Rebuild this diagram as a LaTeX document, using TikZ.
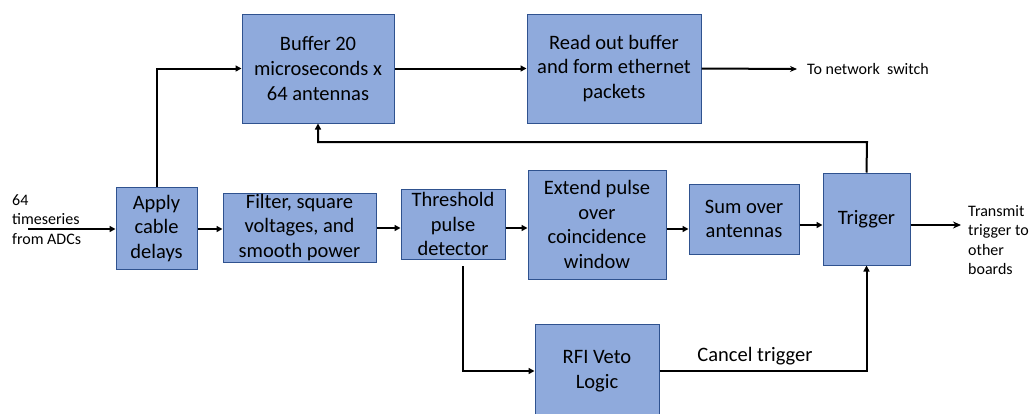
\documentclass[tikz,border=0pt]{standalone}
\usepackage{fontspec}
\setmainfont{Carlito}
\usetikzlibrary{arrows.meta,positioning}
\definecolor{boxfill}{HTML}{8FAADC}
\definecolor{boxline}{HTML}{2F528F}
\begin{document}
\begin{tikzpicture}[x=1pt,y=-1pt,
  blk/.style={draw=boxline,line width=1pt,fill=boxfill,inner sep=0pt,align=center,
    font=\fontsize{20.5}{24.7}\selectfont},
  conn/.style={line width=2pt,-{Triangle[length=6pt,width=6pt]}},
  small/.style={font=\fontsize{16}{19.5}\selectfont,inner sep=0pt},
]
\useasboundingbox (0,0) rectangle (1033,413);
% boxes: centre and size
\node[blk,minimum width=81pt,minimum height=82pt] (apply) at (156.5,228.5) {Apply\\cable\\delays};
\node[blk,minimum width=153pt,minimum height=69pt] (filter) at (299.5,227.5) {Filter, square\\voltages, and\\smooth power};
\node[blk,minimum width=104pt,minimum height=70pt] (thresh) at (453,224) {Threshold\\pulse\\detector};
\node[blk,minimum width=138pt,minimum height=109pt] (extend) at (597,224.5) {Extend pulse\\over\\coincidence\\window};
\node[blk,minimum width=110pt,minimum height=70pt] (sum) at (744,219) {Sum over\\antennas};
\node[blk,minimum width=87pt,minimum height=92pt] (trig) at (866.5,219) {Trigger};
\node[blk,minimum width=152pt,minimum height=109pt] (buffer) at (318,68.5) {Buffer 20\\microseconds x\\64 antennas};
\node[blk,minimum width=174pt,minimum height=109pt] (readout) at (614,68.5) {Read out buffer\\and form ethernet\\packets};
\node[blk,minimum width=124pt,minimum height=100pt,anchor=north] (rfi) at (597,324) {};
\node[font=\fontsize{20.5}{24.7}\selectfont,align=center,inner sep=0pt] (rfitext) at (597,371) {RFI Veto\\Logic};
% texts
\node[small,align=left,anchor=west] (inp) at (12,219.5) {64\\timeseries\\from ADCs};
\node[small,anchor=west] (net) at (807,69) {To network\ \ switch};
\node[small,align=left,anchor=west] (tx) at (968,240) {Transmit\\trigger to\\other\\boards};
\node[font=\fontsize{20.5}{24.7}\selectfont,inner sep=0pt] (cancel) at (755,356) {Cancel trigger};
% coordinates
\coordinate (inS) at (28,229);
\coordinate (netE) at (797,69);
\coordinate (txE) at (961,225);
% connectors
\draw[conn] (inS) -- (inS -| apply.west);
\draw[conn] (apply.north) |- (buffer.west);
\draw[conn] (buffer.east) -- (readout.west);
\draw[line width=2pt,-{Stealth[length=7pt,width=6pt]}] (readout.east) -- (netE);
\draw[conn] (apply.east |- 0,229) -- (filter.west |- 0,229);
\draw[conn] (filter.east |- 0,228) -- (thresh.west |- 0,228);
\draw[conn] (thresh.east |- 0,228) -- (extend.west |- 0,228);
\draw[conn] (extend.east |- 0,229) -- (sum.west |- 0,229);
\draw[conn] (sum.east |- 0,225) -- (trig.west |- 0,225);
\draw[line width=2pt,-{Stealth[length=8pt,width=7pt]}] (trig.east |- 0,225) -- (txE);
\draw[conn] (trig.north) -- (867,142) -| (buffer.south);
\draw[conn] (463,266) |- (rfi.west |- 0,371);
\draw[conn] (rfi.east |- 0,371) -| (trig.south);
\end{tikzpicture}
\end{document}
